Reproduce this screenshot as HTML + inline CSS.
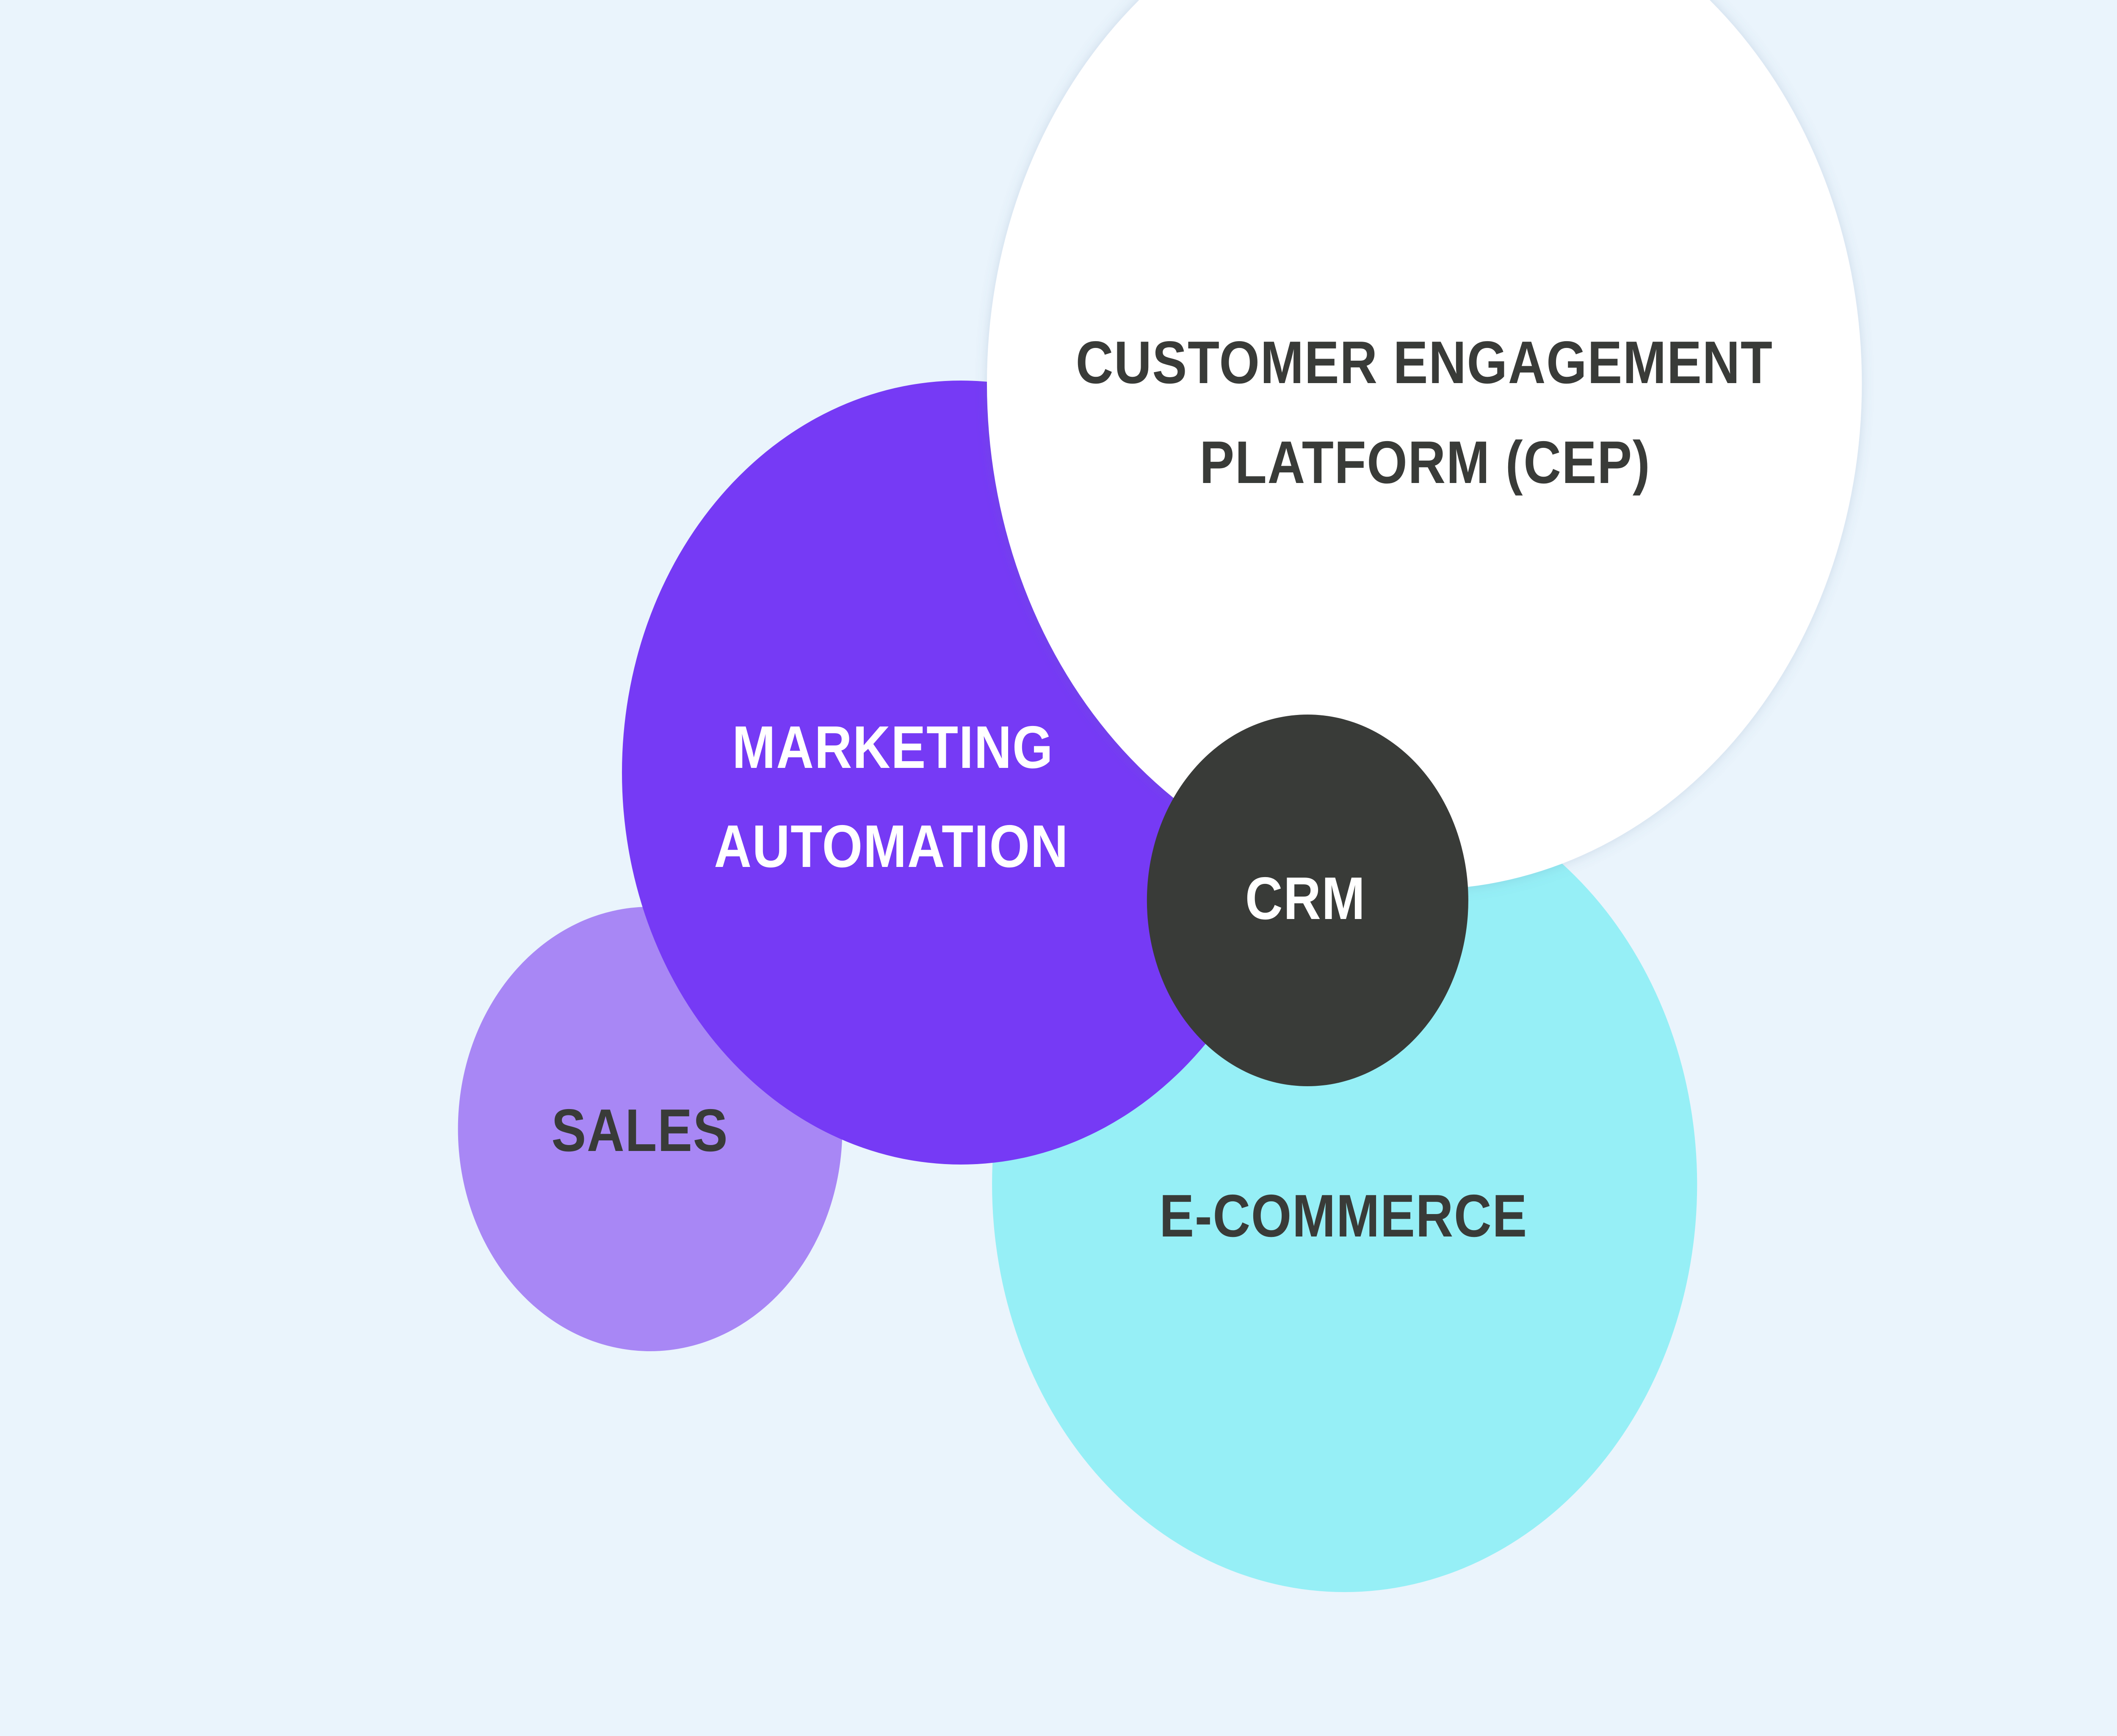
<!DOCTYPE html>
<html>
<head>
<meta charset="utf-8">
<style>
  html, body { margin: 0; padding: 0; background: #EAF4FC; width: 100%; height: 100%; overflow: hidden; }
  svg { display: block; position: absolute; left: 0; top: 0; width: 100vw; height: 100vh; }
  text { font-family: "Liberation Sans", "DejaVu Sans", sans-serif; font-weight: bold; font-size: 142px; letter-spacing: 2px; }
</style>
</head>
<body>
<svg viewBox="0 0 5783 4101" preserveAspectRatio="none" xmlns="http://www.w3.org/2000/svg">
  <defs>
    <filter id="sh" x="-5%" y="-5%" width="110%" height="110%">
      <feDropShadow dx="0" dy="0" stdDeviation="16" flood-color="#5a7ca0" flood-opacity="0.22"/>
    </filter>
  </defs>
  <rect x="0" y="0" width="5783" height="4101" fill="#EAF4FC"/>
  <!-- Sales -->
  <circle cx="1776" cy="2667" r="525" fill="#A887F5"/>
  <!-- E-commerce -->
  <circle cx="3673" cy="2798" r="963" fill="#96EFF6"/>
  <!-- Marketing automation -->
  <circle cx="2625" cy="1825" r="926" fill="#763AF5"/>
  <!-- CEP -->
  <circle cx="3891" cy="906" r="1195" fill="#FFFFFF" filter="url(#sh)"/>
  <!-- CRM -->
  <circle cx="3572" cy="2127" r="439" fill="#393B38"/>

  <text x="3891" y="905" text-anchor="middle" fill="#393B38">CUSTOMER ENGAGEMENT</text>
  <text x="3893" y="1141" text-anchor="middle" fill="#393B38">PLATFORM (CEP)</text>
  <text x="2439" y="1814" text-anchor="middle" fill="#FFFFFF">MARKETING</text>
  <text x="2435" y="2048" text-anchor="middle" fill="#FFFFFF">AUTOMATION</text>
  <text x="3566" y="2171" text-anchor="middle" fill="#FFFFFF">CRM</text>
  <text x="1748" y="2719" text-anchor="middle" fill="#393B38">SALES</text>
  <text x="3670" y="2921" text-anchor="middle" fill="#393B38">E-COMMERCE</text>
</svg>
</body>
</html>
